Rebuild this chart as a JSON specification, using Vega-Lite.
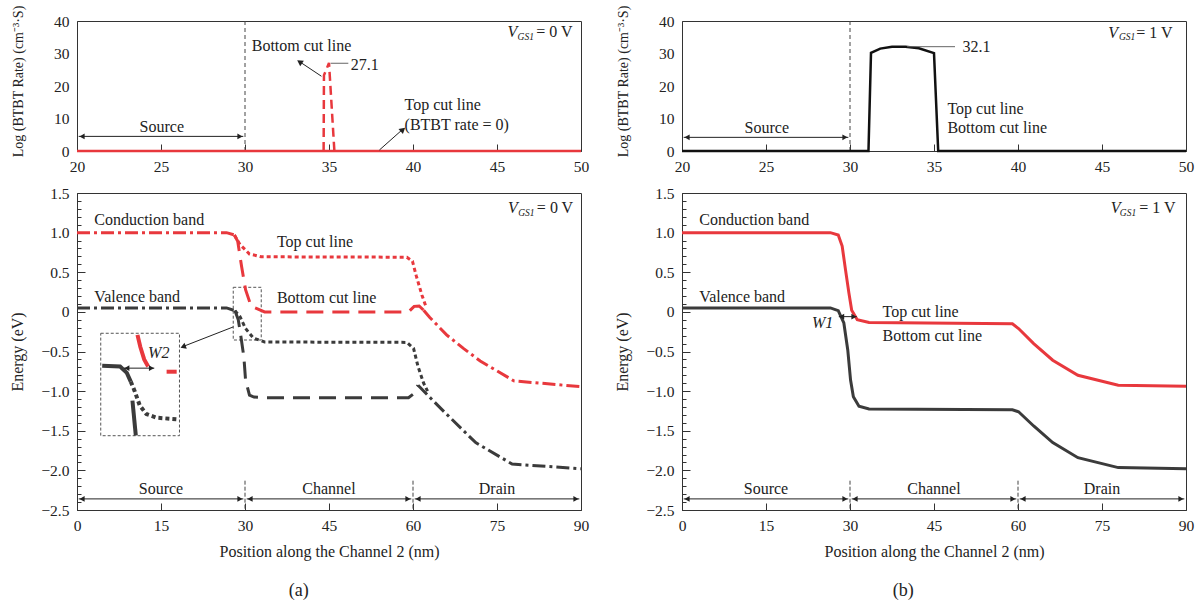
{
"$schema": "https://vega.github.io/schema/vega-lite/v6.json",
"background": "white",
"padding": {"left": 8, "top": 4, "right": 2, "bottom": 2},
"columns": 2,
"spacing": {"row": 42, "column": 101},
"bounds": "flush",
"config": {
  "font": "Liberation Serif",
  "view": {"stroke": "#333", "strokeWidth": 1},
  "axis": {"labelFont": "Liberation Serif", "titleFont": "Liberation Serif", "labelFontSize": 15.5, "titleFontSize": 16, "titleFontWeight": "normal", "labelColor": "#222", "titleColor": "#222", "domainColor": "#333", "tickColor": "#333", "grid": false, "labelFlush": false, "labelOverlap": false},
  "text": {"font": "Liberation Serif", "fontSize": 16, "color": "#222", "baseline": "middle"},
  "line": {"strokeCap": "butt"}
},
"datasets": {
  "tl_lines": [
    {"piece":"base","x":20,"y":0},{"piece":"base","x":50,"y":0},
    {"piece":"peak","x":34.68,"y":0},{"piece":"peak","x":34.7,"y":23.3},{"piece":"peak","x":35.0,"y":27.1},{"piece":"peak","x":35.32,"y":0}
  ],
  "tl_rules": [
    {"kind":"divider","x":30,"y":0,"x2":30,"y2":40},
    {"kind":"arrow","x":20.1,"y":4.5,"x2":29.9,"y2":4.5},
    {"kind":"arrow","x":34.55,"y":23.0,"x2":33.3,"y2":27.3},
    {"kind":"arrow","x":38.0,"y":0.3,"x2":39.35,"y2":6.5},
    {"kind":"leader","x":35.1,"y":27.0,"x2":36.15,"y2":27.0}
  ],
  "tl_heads": [{"x":20.3,"y":4.5,"dir":"left"},{"x":29.7,"y":4.5,"dir":"right"}],
  "tl_tips": [{"name":"bottom","x":33.25,"y":27.4},{"name":"top","x":39.4,"y":6.6}],
  "tl_text": [
    {"k":"l","x":30.4,"y":32.2,"text":"Bottom cut line"},
    {"k":"l","x":39.5,"y":14.1,"text":"Top cut line"},
    {"k":"l","x":39.5,"y":8.0,"text":"(BTBT rate = 0)"},
    {"k":"l","x":36.3,"y":26.6,"text":"27.1"},
    {"k":"c","x":25.05,"y":7.3,"text":"Source"},
    {"k":"V","x":46.2,"y":36.6,"text":"V"},
    {"k":"sub","x":47.2,"y":35.0,"text":"GS1"},
    {"k":"eq","x":49.5,"y":36.6,"text":"= 0 V"}
  ],
  "tr_lines": [
    {"x":20,"y":0},{"x":31.1,"y":0},{"x":31.25,"y":30.2},{"x":31.8,"y":31.5},{"x":32.5,"y":32.1},{"x":33.3,"y":32.1},{"x":34.1,"y":31.6},{"x":35.0,"y":30.1},{"x":35.25,"y":0},{"x":50,"y":0}
  ],
  "tr_rules": [
    {"kind":"divider","x":30,"y":0,"x2":30,"y2":40},
    {"kind":"arrow","x":20.1,"y":4.2,"x2":29.9,"y2":4.2},
    {"kind":"leader","x":33.4,"y":32.1,"x2":36.25,"y2":32.1}
  ],
  "tr_heads": [{"x":20.3,"y":4.2,"dir":"left"},{"x":29.7,"y":4.2,"dir":"right"}],
  "tr_text": [
    {"k":"l","x":35.8,"y":12.8,"text":"Top cut line"},
    {"k":"l","x":35.8,"y":7.0,"text":"Bottom cut line"},
    {"k":"l","x":36.7,"y":32.1,"text":"32.1"},
    {"k":"c","x":25.05,"y":7.0,"text":"Source"},
    {"k":"V","x":45.95,"y":36.2,"text":"V"},
    {"k":"sub","x":46.98,"y":35.0,"text":"GS1"},
    {"k":"eq","x":49.2,"y":36.2,"text":"= 1 V"}
  ],
  "bl_bands": [
    {"band":"cb","seg":"src","x":0,"y":1.0},{"band":"cb","seg":"src","x":26.7,"y":1.0},{"band":"cb","seg":"src","x":28.1,"y":0.97},
    {"band":"cb","seg":"top","x":28.1,"y":0.97},{"band":"cb","seg":"top","x":29.1,"y":0.85},{"band":"cb","seg":"top","x":30.8,"y":0.73},{"band":"cb","seg":"top","x":32.9,"y":0.695},{"band":"cb","seg":"top","x":58.9,"y":0.69},{"band":"cb","seg":"top","x":59.9,"y":0.64},{"band":"cb","seg":"top","x":60.6,"y":0.45},{"band":"cb","seg":"top","x":61.6,"y":0.21},{"band":"cb","seg":"top","x":62.3,"y":0.07},
    {"band":"cb","seg":"bot","x":28.1,"y":0.97},{"band":"cb","seg":"bot","x":28.7,"y":0.89},{"band":"cb","seg":"bot","x":29.4,"y":0.57},{"band":"cb","seg":"bot","x":30.1,"y":0.28},{"band":"cb","seg":"bot","x":31.1,"y":0.07},{"band":"cb","seg":"bot","x":33.5,"y":0.0},{"band":"cb","seg":"bot","x":59.2,"y":0.0},{"band":"cb","seg":"bot","x":60.2,"y":0.07},{"band":"cb","seg":"bot","x":61.1,"y":0.075},{"band":"cb","seg":"bot","x":61.9,"y":0.02},
    {"band":"cb","seg":"drn","x":61.9,"y":0.02},{"band":"cb","seg":"drn","x":63.0,"y":-0.07},{"band":"cb","seg":"drn","x":66.0,"y":-0.29},{"band":"cb","seg":"drn","x":69.0,"y":-0.46},{"band":"cb","seg":"drn","x":72.0,"y":-0.62},{"band":"cb","seg":"drn","x":78.0,"y":-0.87},{"band":"cb","seg":"drn","x":90,"y":-0.945},
    {"band":"vb","seg":"src","x":0,"y":0.05},{"band":"vb","seg":"src","x":26.7,"y":0.05},{"band":"vb","seg":"src","x":28.2,"y":0.016},
    {"band":"vb","seg":"top","x":28.2,"y":0.016},{"band":"vb","seg":"top","x":29.1,"y":-0.06},{"band":"vb","seg":"top","x":30.1,"y":-0.21},{"band":"vb","seg":"top","x":31.5,"y":-0.33},{"band":"vb","seg":"top","x":33.5,"y":-0.38},{"band":"vb","seg":"top","x":58.9,"y":-0.385},{"band":"vb","seg":"top","x":60.1,"y":-0.46},{"band":"vb","seg":"top","x":60.9,"y":-0.69},{"band":"vb","seg":"top","x":61.9,"y":-0.9},{"band":"vb","seg":"top","x":62.6,"y":-1.0},
    {"band":"vb","seg":"bot","x":28.2,"y":0.016},{"band":"vb","seg":"bot","x":28.8,"y":-0.1},{"band":"vb","seg":"bot","x":29.1,"y":-0.23},{"band":"vb","seg":"bot","x":29.8,"y":-0.57},{"band":"vb","seg":"bot","x":30.1,"y":-0.86},{"band":"vb","seg":"bot","x":30.8,"y":-1.05},{"band":"vb","seg":"bot","x":31.6,"y":-1.075},{"band":"vb","seg":"bot","x":33.5,"y":-1.083},{"band":"vb","seg":"bot","x":59.2,"y":-1.083},{"band":"vb","seg":"bot","x":60.0,"y":-1.04},{"band":"vb","seg":"bot","x":60.9,"y":-0.925},
    {"band":"vb","seg":"drn","x":60.9,"y":-0.925},{"band":"vb","seg":"drn","x":62.6,"y":-1.05},{"band":"vb","seg":"drn","x":65.7,"y":-1.27},{"band":"vb","seg":"drn","x":71.2,"y":-1.65},{"band":"vb","seg":"drn","x":77.7,"y":-1.92},{"band":"vb","seg":"drn","x":90,"y":-1.98}
  ],
  "bl_inset": [
    {"band":"vb","seg":"solid","x":4.5,"y":-0.68},{"band":"vb","seg":"solid","x":7.7,"y":-0.69},{"band":"vb","seg":"solid","x":8.9,"y":-0.77},{"band":"vb","seg":"solid","x":9.6,"y":-0.88},
    {"band":"vb","seg":"dot","x":9.6,"y":-0.88},{"band":"vb","seg":"dot","x":10.3,"y":-1.0},{"band":"vb","seg":"dot","x":11.2,"y":-1.18},{"band":"vb","seg":"dot","x":12.4,"y":-1.29},{"band":"vb","seg":"dot","x":14.2,"y":-1.335},{"band":"vb","seg":"dot","x":17.8,"y":-1.355},
    {"band":"vb","seg":"stem","x":9.9,"y":-1.12},{"band":"vb","seg":"stem","x":10.5,"y":-1.56},
    {"band":"cb","seg":"curve","x":10.8,"y":-0.29},{"band":"cb","seg":"curve","x":11.3,"y":-0.44},{"band":"cb","seg":"curve","x":12.0,"y":-0.6},{"band":"cb","seg":"curve","x":12.7,"y":-0.69},
    {"band":"cb","seg":"dash","x":16.0,"y":-0.755},{"band":"cb","seg":"dash","x":17.8,"y":-0.755}
  ],
  "bl_boxes": [
    {"x":4.24,"x2":18.3,"y":-0.27,"y2":-1.5625},
    {"x":27.9,"x2":32.9,"y":0.31,"y2":-0.355}
  ],
  "bl_rules": [
    {"kind":"divider","x":30,"y":-2.13,"x2":30,"y2":-2.5},
    {"kind":"divider","x":60,"y":-2.13,"x2":60,"y2":-2.5},
    {"kind":"arrow","x":27.9,"y":-0.19,"x2":19.2,"y2":-0.43},
    {"kind":"arrow","x":8.4,"y":-0.71,"x2":13.8,"y2":-0.71}
  ],
  "bl_heads": [
    {"x":0.9,"y":-2.36,"dir":"left"},{"x":29.1,"y":-2.36,"dir":"right"},
    {"x":30.9,"y":-2.36,"dir":"left"},{"x":59.1,"y":-2.36,"dir":"right"},
    {"x":60.9,"y":-2.36,"dir":"left"},{"x":89.1,"y":-2.36,"dir":"right"},
    {"x":8.9,"y":-0.71,"dir":"left"},{"x":13.3,"y":-0.71,"dir":"right"}
  ],
  "bl_tips": [{"x":18.95,"y":-0.44}],
  "reg": [
    {"x":0.3,"x2":29.7,"y":-2.36},{"x":30.3,"x2":59.7,"y":-2.36},{"x":60.3,"x2":89.7,"y":-2.36}
  ],
  "bl_text": [
    {"k":"l","x":3.1,"y":1.16,"text":"Conduction band"},
    {"k":"l","x":3.1,"y":0.185,"text":"Valence band"},
    {"k":"l","x":35.7,"y":0.876,"text":"Top cut line"},
    {"k":"l","x":35.7,"y":0.17,"text":"Bottom cut line"},
    {"k":"it","x":14.6,"y":-0.52,"text":"W2"},
    {"k":"c","x":15,"y":-2.23,"text":"Source"},
    {"k":"c","x":45,"y":-2.23,"text":"Channel"},
    {"k":"c","x":75,"y":-2.23,"text":"Drain"},
    {"k":"big","x":39.6,"y":-3.52,"text":"(a)"},
    {"k":"V","x":78.7,"y":1.31,"text":"V"},
    {"k":"sub","x":81.7,"y":1.247,"text":"GS1"},
    {"k":"eq","x":88.6,"y":1.31,"text":"= 0 V"}
  ],
  "br_bands": [
    {"band":"cb","x":0,"y":1.0},{"band":"cb","x":26.5,"y":1.0},{"band":"cb","x":27.9,"y":0.97},{"band":"cb","x":28.6,"y":0.83},{"band":"cb","x":29.2,"y":0.53},{"band":"cb","x":29.8,"y":0.24},{"band":"cb","x":30.3,"y":0.02},{"band":"cb","x":31.3,"y":-0.1},{"band":"cb","x":33.4,"y":-0.135},{"band":"cb","x":59.0,"y":-0.15},{"band":"cb","x":60.1,"y":-0.21},{"band":"cb","x":62.8,"y":-0.4},{"band":"cb","x":66.2,"y":-0.61},{"band":"cb","x":70.7,"y":-0.8},{"band":"cb","x":77.9,"y":-0.925},{"band":"cb","x":90,"y":-0.94},
    {"band":"vb","x":0,"y":0.05},{"band":"vb","x":26.5,"y":0.05},{"band":"vb","x":27.9,"y":0.016},{"band":"vb","x":28.9,"y":-0.14},{"band":"vb","x":29.6,"y":-0.48},{"band":"vb","x":30.1,"y":-0.86},{"band":"vb","x":30.6,"y":-1.07},{"band":"vb","x":31.6,"y":-1.19},{"band":"vb","x":33.4,"y":-1.225},{"band":"vb","x":59.0,"y":-1.235},{"band":"vb","x":60.1,"y":-1.26},{"band":"vb","x":62.8,"y":-1.44},{"band":"vb","x":66.2,"y":-1.65},{"band":"vb","x":70.7,"y":-1.84},{"band":"vb","x":77.9,"y":-1.965},{"band":"vb","x":90,"y":-1.98}
  ],
  "br_rules": [
    {"kind":"divider","x":30,"y":-2.13,"x2":30,"y2":-2.5},
    {"kind":"divider","x":60,"y":-2.13,"x2":60,"y2":-2.5},
    {"kind":"arrow","x":28.0,"y":-0.06,"x2":31.2,"y2":-0.06}
  ],
  "br_heads": [
    {"x":0.9,"y":-2.36,"dir":"left"},{"x":29.1,"y":-2.36,"dir":"right"},
    {"x":30.9,"y":-2.36,"dir":"left"},{"x":59.1,"y":-2.36,"dir":"right"},
    {"x":60.9,"y":-2.36,"dir":"left"},{"x":89.1,"y":-2.36,"dir":"right"},
    {"x":28.5,"y":-0.06,"dir":"left"},{"x":30.7,"y":-0.06,"dir":"right"}
  ],
  "br_text": [
    {"k":"l","x":3.1,"y":1.16,"text":"Conduction band"},
    {"k":"l","x":3.1,"y":0.185,"text":"Valence band"},
    {"k":"l","x":35.8,"y":-0.005,"text":"Top cut line"},
    {"k":"l","x":35.8,"y":-0.3,"text":"Bottom cut line"},
    {"k":"it","x":25.1,"y":-0.14,"text":"W1"},
    {"k":"c","x":15,"y":-2.23,"text":"Source"},
    {"k":"c","x":45,"y":-2.23,"text":"Channel"},
    {"k":"c","x":75,"y":-2.23,"text":"Drain"},
    {"k":"big","x":39.5,"y":-3.52,"text":"(b)"},
    {"k":"V","x":78.3,"y":1.31,"text":"V"},
    {"k":"sub","x":81.1,"y":1.247,"text":"GS1"},
    {"k":"eq","x":88.15,"y":1.31,"text":"= 1 V"}
  ]
},
"concat": [
  {
    "width": 504, "height": 130,
    "encoding": {
      "x": {"field":"x","type":"quantitative","scale":{"domain":[20,50],"nice":false,"zero":false},"axis":{"values":[20,25,30,35,40,45,50],"tickSize":-7,"labelPadding":15,"title":null}},
      "y": {"field":"y","type":"quantitative","scale":{"domain":[0,40],"nice":false,"zero":false},"axis":{"values":[0,10,20,30,40],"ticks":false,"labelPadding":8,"title":"Log (BTBT Rate) (cm⁻³·S)","titleFontSize":14,"titleX":-52,"titleY":60}}
    },
    "layer": [
      {"data":{"name":"tl_rules"},"transform":[{"filter":"datum.kind == 'divider'"}],"mark":{"type":"rule","color":"#444","strokeWidth":1,"strokeDash":[4,3]},"encoding":{"x2":{"field":"x2"},"y2":{"field":"y2"}}},
      {"data":{"name":"tl_lines"},"transform":[{"filter":"datum.piece == 'base'"}],"mark":{"type":"line","color":"#e8383d","strokeWidth":2.5},"encoding":{}},
      {"data":{"name":"tl_lines"},"transform":[{"filter":"datum.piece == 'peak'"}],"mark":{"type":"line","color":"#e8383d","strokeWidth":2.5,"strokeDash":[9,5]},"encoding":{}},
      {"data":{"name":"tl_rules"},"transform":[{"filter":"datum.kind == 'arrow'"}],"mark":{"type":"rule","color":"#222","strokeWidth":1},"encoding":{"x2":{"field":"x2"},"y2":{"field":"y2"}}},
      {"data":{"name":"tl_rules"},"transform":[{"filter":"datum.kind == 'leader'"}],"mark":{"type":"rule","color":"#666","strokeWidth":1},"encoding":{"x2":{"field":"x2"},"y2":{"field":"y2"}}},
      {"data":{"name":"tl_heads"},"mark":{"type":"point","filled":true,"color":"#222","size":35,"opacity":1},"encoding":{"shape":{"field":"dir","type":"nominal","scale":{"domain":["left","right"],"range":["triangle-left","triangle-right"]},"legend":null}}},
      {"data":{"name":"tl_tips"},"transform":[{"filter":"datum.name == 'bottom'"}],"mark":{"type":"point","shape":"triangle-up","filled":true,"color":"#222","size":45,"angle":303,"opacity":1},"encoding":{}},
      {"data":{"name":"tl_tips"},"transform":[{"filter":"datum.name == 'top'"}],"mark":{"type":"point","shape":"triangle-up","filled":true,"color":"#222","size":45,"angle":49,"opacity":1},"encoding":{}},
      {"data":{"name":"tl_text"},"transform":[{"filter":"datum.k == 'l'"}],"mark":{"type":"text","align":"left","fontSize":16},"encoding":{"text":{"field":"text","type":"nominal"}}},
      {"data":{"name":"tl_text"},"transform":[{"filter":"datum.k == 'c'"}],"mark":{"type":"text","align":"center","fontSize":16},"encoding":{"text":{"field":"text","type":"nominal"}}},
      {"data":{"name":"tl_text"},"transform":[{"filter":"datum.k == 'V'"}],"mark":{"type":"text","align":"right","fontSize":16,"fontStyle":"italic"},"encoding":{"text":{"field":"text","type":"nominal"}}},
      {"data":{"name":"tl_text"},"transform":[{"filter":"datum.k == 'sub'"}],"mark":{"type":"text","align":"right","fontSize":9.5,"fontStyle":"italic"},"encoding":{"text":{"field":"text","type":"nominal"}}},
      {"data":{"name":"tl_text"},"transform":[{"filter":"datum.k == 'eq'"}],"mark":{"type":"text","align":"right","fontSize":16},"encoding":{"text":{"field":"text","type":"nominal"}}}
    ]
  },
  {
    "width": 504, "height": 130,
    "encoding": {
      "x": {"field":"x","type":"quantitative","scale":{"domain":[20,50],"nice":false,"zero":false},"axis":{"values":[20,25,30,35,40,45,50],"tickSize":-7,"labelPadding":15,"title":null}},
      "y": {"field":"y","type":"quantitative","scale":{"domain":[0,40],"nice":false,"zero":false},"axis":{"values":[0,10,20,30,40],"ticks":false,"labelPadding":8,"title":"Log (BTBT Rate) (cm⁻³·S)","titleFontSize":14,"titleX":-52,"titleY":60}}
    },
    "layer": [
      {"data":{"name":"tr_rules"},"transform":[{"filter":"datum.kind == 'divider'"}],"mark":{"type":"rule","color":"#444","strokeWidth":1,"strokeDash":[4,3]},"encoding":{"x2":{"field":"x2"},"y2":{"field":"y2"}}},
      {"data":{"name":"tr_lines"},"mark":{"type":"line","color":"#111","strokeWidth":2.5},"encoding":{}},
      {"data":{"name":"tr_rules"},"transform":[{"filter":"datum.kind == 'arrow'"}],"mark":{"type":"rule","color":"#222","strokeWidth":1},"encoding":{"x2":{"field":"x2"},"y2":{"field":"y2"}}},
      {"data":{"name":"tr_rules"},"transform":[{"filter":"datum.kind == 'leader'"}],"mark":{"type":"rule","color":"#666","strokeWidth":1},"encoding":{"x2":{"field":"x2"},"y2":{"field":"y2"}}},
      {"data":{"name":"tr_heads"},"mark":{"type":"point","filled":true,"color":"#222","size":35,"opacity":1},"encoding":{"shape":{"field":"dir","type":"nominal","scale":{"domain":["left","right"],"range":["triangle-left","triangle-right"]},"legend":null}}},
      {"data":{"name":"tr_text"},"transform":[{"filter":"datum.k == 'l'"}],"mark":{"type":"text","align":"left","fontSize":16},"encoding":{"text":{"field":"text","type":"nominal"}}},
      {"data":{"name":"tr_text"},"transform":[{"filter":"datum.k == 'c'"}],"mark":{"type":"text","align":"center","fontSize":16},"encoding":{"text":{"field":"text","type":"nominal"}}},
      {"data":{"name":"tr_text"},"transform":[{"filter":"datum.k == 'V'"}],"mark":{"type":"text","align":"right","fontSize":16,"fontStyle":"italic"},"encoding":{"text":{"field":"text","type":"nominal"}}},
      {"data":{"name":"tr_text"},"transform":[{"filter":"datum.k == 'sub'"}],"mark":{"type":"text","align":"right","fontSize":9.5,"fontStyle":"italic"},"encoding":{"text":{"field":"text","type":"nominal"}}},
      {"data":{"name":"tr_text"},"transform":[{"filter":"datum.k == 'eq'"}],"mark":{"type":"text","align":"right","fontSize":16},"encoding":{"text":{"field":"text","type":"nominal"}}}
    ]
  },
  {
    "width": 504, "height": 317,
    "resolve": {"axis": {"y": "independent"}},
    "layer": [
      {
        "encoding": {
          "x": {"field":"x","type":"quantitative","scale":{"domain":[0,90],"nice":false,"zero":false},"axis":{"values":[0,15,30,45,60,75,90],"tickSize":-7,"labelPadding":15,"title":"Position along the Channel 2 (nm)","titleY":33}},
          "y": {"field":"y","type":"quantitative","scale":{"domain":[-2.5,1.5],"nice":false,"zero":false},"axis":{"values":[-2.5,-2,-1.5,-1,-0.5,0,0.5,1,1.5],"tickSize":-8,"labelPadding":16,"labelExpr":"datum.value == 0 ? '0' : format(datum.value, '.1f')","title":"Energy (eV)","titleX":-52}}
        },
        "layer": [
          {"data":{"name":"bl_boxes"},"mark":{"type":"rect","fillOpacity":0,"stroke":"#555","strokeWidth":1,"strokeDash":[3,2]},"encoding":{"x2":{"field":"x2"},"y2":{"field":"y2"}}},
          {"data":{"name":"bl_rules"},"transform":[{"filter":"datum.kind == 'divider'"}],"mark":{"type":"rule","color":"#444","strokeWidth":1,"strokeDash":[4,2]},"encoding":{"x2":{"field":"x2"},"y2":{"field":"y2"}}},
          {"data":{"name":"bl_bands"},"transform":[{"filter":"datum.seg == 'src' || datum.seg == 'drn'"}],"mark":{"type":"line","strokeWidth":3,"strokeDash":[13,4,3,4]},"encoding":{"color":{"field":"band","type":"nominal","scale":{"domain":["cb","vb"],"range":["#e8383d","#3b3b3b"]},"legend":null},"detail":{"field":"seg","type":"nominal"}}},
          {"data":{"name":"bl_bands"},"transform":[{"filter":"datum.seg == 'top'"}],"mark":{"type":"line","strokeWidth":3,"strokeDash":[4,3]},"encoding":{"color":{"field":"band","type":"nominal","scale":{"domain":["cb","vb"],"range":["#e8383d","#3b3b3b"]},"legend":null}}},
          {"data":{"name":"bl_bands"},"transform":[{"filter":"datum.seg == 'bot'"}],"mark":{"type":"line","strokeWidth":3,"strokeDash":[17,9]},"encoding":{"color":{"field":"band","type":"nominal","scale":{"domain":["cb","vb"],"range":["#e8383d","#3b3b3b"]},"legend":null}}},
          {"data":{"name":"bl_inset"},"transform":[{"filter":"datum.seg != 'dot'"}],"mark":{"type":"line","strokeWidth":4},"encoding":{"color":{"field":"band","type":"nominal","scale":{"domain":["cb","vb"],"range":["#e8383d","#3b3b3b"]},"legend":null},"detail":{"field":"seg","type":"nominal"}}},
          {"data":{"name":"bl_inset"},"transform":[{"filter":"datum.seg == 'dot'"}],"mark":{"type":"line","strokeWidth":4,"strokeDash":[4,3]},"encoding":{"color":{"field":"band","type":"nominal","scale":{"domain":["cb","vb"],"range":["#e8383d","#3b3b3b"]},"legend":null}}},
          {"data":{"name":"bl_rules"},"transform":[{"filter":"datum.kind == 'arrow'"}],"mark":{"type":"rule","color":"#222","strokeWidth":1},"encoding":{"x2":{"field":"x2"},"y2":{"field":"y2"}}},
          {"data":{"name":"bl_heads"},"mark":{"type":"point","filled":true,"color":"#222","size":35,"opacity":1},"encoding":{"shape":{"field":"dir","type":"nominal","scale":{"domain":["left","right"],"range":["triangle-left","triangle-right"]},"legend":null}}},
          {"data":{"name":"bl_tips"},"mark":{"type":"point","shape":"triangle-up","filled":true,"color":"#222","size":40,"angle":248,"opacity":1},"encoding":{}},
          {"data":{"name":"bl_text"},"transform":[{"filter":"datum.k == 'l'"}],"mark":{"type":"text","align":"left","fontSize":16},"encoding":{"text":{"field":"text","type":"nominal"}}},
          {"data":{"name":"bl_text"},"transform":[{"filter":"datum.k == 'c'"}],"mark":{"type":"text","align":"center","fontSize":16},"encoding":{"text":{"field":"text","type":"nominal"}}},
          {"data":{"name":"bl_text"},"transform":[{"filter":"datum.k == 'it'"}],"mark":{"type":"text","align":"center","fontSize":16,"fontStyle":"italic"},"encoding":{"text":{"field":"text","type":"nominal"}}},
          {"data":{"name":"bl_text"},"transform":[{"filter":"datum.k == 'big'"}],"mark":{"type":"text","align":"center","fontSize":18},"encoding":{"text":{"field":"text","type":"nominal"}}},
          {"data":{"name":"bl_text"},"transform":[{"filter":"datum.k == 'V'"}],"mark":{"type":"text","align":"right","fontSize":16,"fontStyle":"italic"},"encoding":{"text":{"field":"text","type":"nominal"}}},
          {"data":{"name":"bl_text"},"transform":[{"filter":"datum.k == 'sub'"}],"mark":{"type":"text","align":"right","fontSize":9.5,"fontStyle":"italic"},"encoding":{"text":{"field":"text","type":"nominal"}}},
          {"data":{"name":"bl_text"},"transform":[{"filter":"datum.k == 'eq'"}],"mark":{"type":"text","align":"right","fontSize":16},"encoding":{"text":{"field":"text","type":"nominal"}}}
        ]
      },
      {
        "data": {"name": "reg"},
        "mark": {"type":"rule","color":"#222","strokeWidth":1},
        "encoding": {
          "x": {"field":"x","type":"quantitative","scale":{"domain":[0,90],"nice":false,"zero":false},"axis":{"values":[0,15,30,45,60,75,90],"tickSize":-7,"labelPadding":15,"title":"Position along the Channel 2 (nm)","titleY":33}},
          "x2": {"field":"x2"},
          "y": {"field":"y","type":"quantitative","scale":{"domain":[-2.5,1.5],"nice":false,"zero":false},"axis":{"orient":"left","values":[-2.4,-2.3,-2.2,-2.1,-1.9,-1.8,-1.7,-1.6,-1.4,-1.3,-1.2,-1.1,-0.9,-0.8,-0.7,-0.6,-0.4,-0.3,-0.2,-0.1,0.1,0.2,0.3,0.4,0.6,0.7,0.8,0.9,1.1,1.2,1.3,1.4],"tickSize":-4,"labels":false,"domain":false,"title":null}}
        }
      }
    ]
  },
  {
    "width": 504, "height": 317,
    "resolve": {"axis": {"y": "independent"}},
    "layer": [
      {
        "encoding": {
          "x": {"field":"x","type":"quantitative","scale":{"domain":[0,90],"nice":false,"zero":false},"axis":{"values":[0,15,30,45,60,75,90],"tickSize":-7,"labelPadding":15,"title":"Position along the Channel 2 (nm)","titleY":33}},
          "y": {"field":"y","type":"quantitative","scale":{"domain":[-2.5,1.5],"nice":false,"zero":false},"axis":{"values":[-2.5,-2,-1.5,-1,-0.5,0,0.5,1,1.5],"tickSize":-8,"labelPadding":16,"labelExpr":"datum.value == 0 ? '0' : format(datum.value, '.1f')","title":"Energy (eV)","titleX":-52}}
        },
        "layer": [
          {"data":{"name":"br_rules"},"transform":[{"filter":"datum.kind == 'divider'"}],"mark":{"type":"rule","color":"#444","strokeWidth":1,"strokeDash":[4,2]},"encoding":{"x2":{"field":"x2"},"y2":{"field":"y2"}}},
          {"data":{"name":"br_bands"},"mark":{"type":"line","strokeWidth":3},"encoding":{"color":{"field":"band","type":"nominal","scale":{"domain":["cb","vb"],"range":["#e8383d","#3b3b3b"]},"legend":null}}},
          {"data":{"name":"br_rules"},"transform":[{"filter":"datum.kind == 'arrow'"}],"mark":{"type":"rule","color":"#222","strokeWidth":1},"encoding":{"x2":{"field":"x2"},"y2":{"field":"y2"}}},
          {"data":{"name":"br_heads"},"mark":{"type":"point","filled":true,"color":"#222","size":35,"opacity":1},"encoding":{"shape":{"field":"dir","type":"nominal","scale":{"domain":["left","right"],"range":["triangle-left","triangle-right"]},"legend":null}}},
          {"data":{"name":"br_text"},"transform":[{"filter":"datum.k == 'l'"}],"mark":{"type":"text","align":"left","fontSize":16},"encoding":{"text":{"field":"text","type":"nominal"}}},
          {"data":{"name":"br_text"},"transform":[{"filter":"datum.k == 'c'"}],"mark":{"type":"text","align":"center","fontSize":16},"encoding":{"text":{"field":"text","type":"nominal"}}},
          {"data":{"name":"br_text"},"transform":[{"filter":"datum.k == 'it'"}],"mark":{"type":"text","align":"center","fontSize":16,"fontStyle":"italic"},"encoding":{"text":{"field":"text","type":"nominal"}}},
          {"data":{"name":"br_text"},"transform":[{"filter":"datum.k == 'big'"}],"mark":{"type":"text","align":"center","fontSize":18},"encoding":{"text":{"field":"text","type":"nominal"}}},
          {"data":{"name":"br_text"},"transform":[{"filter":"datum.k == 'V'"}],"mark":{"type":"text","align":"right","fontSize":16,"fontStyle":"italic"},"encoding":{"text":{"field":"text","type":"nominal"}}},
          {"data":{"name":"br_text"},"transform":[{"filter":"datum.k == 'sub'"}],"mark":{"type":"text","align":"right","fontSize":9.5,"fontStyle":"italic"},"encoding":{"text":{"field":"text","type":"nominal"}}},
          {"data":{"name":"br_text"},"transform":[{"filter":"datum.k == 'eq'"}],"mark":{"type":"text","align":"right","fontSize":16},"encoding":{"text":{"field":"text","type":"nominal"}}}
        ]
      },
      {
        "data": {"name": "reg"},
        "mark": {"type":"rule","color":"#222","strokeWidth":1},
        "encoding": {
          "x": {"field":"x","type":"quantitative","scale":{"domain":[0,90],"nice":false,"zero":false},"axis":{"values":[0,15,30,45,60,75,90],"tickSize":-7,"labelPadding":15,"title":"Position along the Channel 2 (nm)","titleY":33}},
          "x2": {"field":"x2"},
          "y": {"field":"y","type":"quantitative","scale":{"domain":[-2.5,1.5],"nice":false,"zero":false},"axis":{"orient":"left","values":[-2.4,-2.3,-2.2,-2.1,-1.9,-1.8,-1.7,-1.6,-1.4,-1.3,-1.2,-1.1,-0.9,-0.8,-0.7,-0.6,-0.4,-0.3,-0.2,-0.1,0.1,0.2,0.3,0.4,0.6,0.7,0.8,0.9,1.1,1.2,1.3,1.4],"tickSize":-4,"labels":false,"domain":false,"title":null}}
        }
      }
    ]
  }
]
}
